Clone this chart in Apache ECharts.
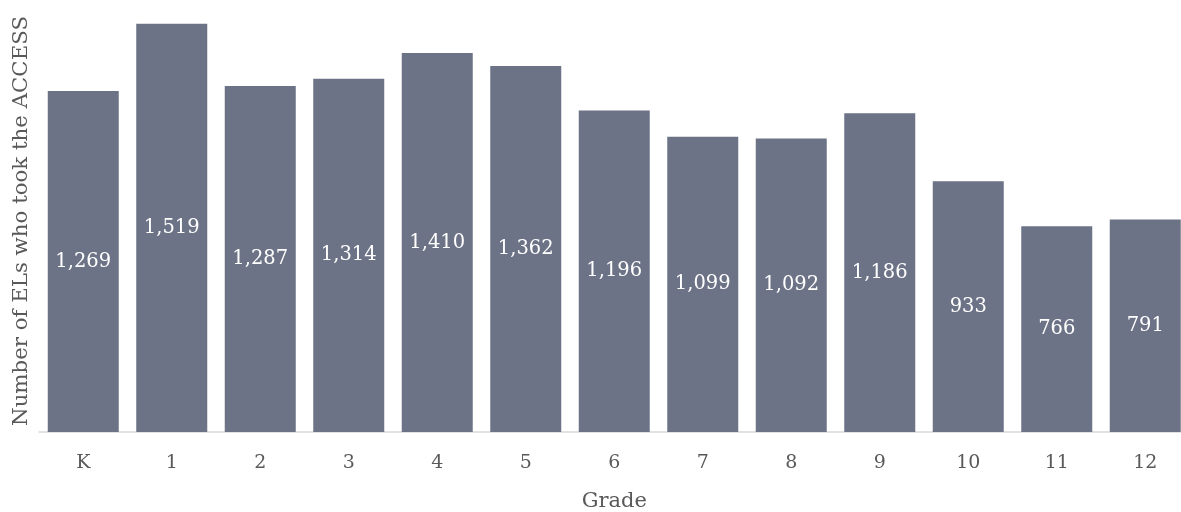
<!DOCTYPE html>
<html>
<head>
<meta charset="utf-8">
<script src="https://cdn.jsdelivr.net/npm/echarts@6/dist/echarts.min.js"></script>
<style>
  html, body { margin: 0; padding: 0; background: #ffffff; }
  #chart { width: 1181px; height: 512px; }
</style>
</head>
<body>
<div id="chart"></div>
<script>
// Grades and counts of English learners tested
const grades = ['K', '1', '2', '3', '4', '5', '6', '7', '8', '9', '10', '11', '12'];
const testTakers = [1269, 1519, 1287, 1314, 1410, 1362, 1196, 1099, 1092, 1186, 933, 766, 791];

const FONT = 'DejaVu Serif';
const TEXT = '#595959';

const chart = echarts.init(document.getElementById('chart'));
chart.setOption({
  animation: false,
  grid: { left: 39, right: -8.5, top: 2, bottom: 80, outerBoundsMode: 'none', containLabel: false },
  xAxis: {
    type: 'category',
    data: grades,
    name: 'Grade',
    nameLocation: 'middle',
    nameGap: 59,
    nameTextStyle: { fontFamily: FONT, fontSize: 21, color: TEXT },
    axisLine: { lineStyle: { color: '#d9d9d9', width: 1.5 } },
    axisTick: { show: false },
    axisLabel: { fontFamily: FONT, fontSize: 19, color: TEXT, margin: 22 }
  },
  yAxis: {
    type: 'value',
    min: 0,
    max: 1600,
    name: 'Number of ELs who took the ACCESS',
    nameLocation: 'middle',
    nameGap: 7,
    nameTextStyle: { fontFamily: FONT, fontSize: 21.3, color: TEXT, padding: [0, 8, 0, 0] },
    axisLine: { show: false },
    axisTick: { show: false },
    axisLabel: { show: false },
    splitLine: { show: false }
  },
  series: [{
    type: 'bar',
    data: testTakers,
    barWidth: 71,
    itemStyle: { color: '#6d7386' },
    label: {
      show: true,
      position: 'inside',
      fontFamily: FONT,
      fontSize: 19.5,
      color: '#ffffff',
      formatter: p => p.value.toLocaleString('en-US')
    }
  }]
});
</script>
</body>
</html>
